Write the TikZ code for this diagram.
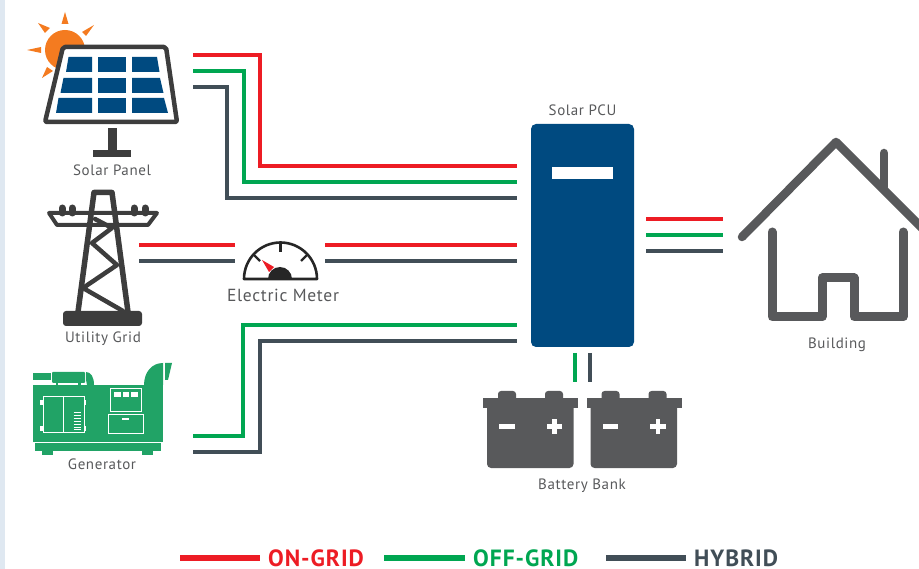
\documentclass[tikz,border=0pt]{standalone}
\usepackage{fontspec}
\setmainfont{PT Sans}
\newfontfamily\labelfont[LetterSpace=4]{PT Sans}
\newfontfamily\keyfont[LetterSpace=4]{PT Sans}
\usepackage{xcolor}
\usetikzlibrary{positioning, calc}

\definecolor{ongrid}{HTML}{ED1C24}
\definecolor{offgrid}{HTML}{00A651}
\definecolor{hybrid}{HTML}{414E57}
\definecolor{pcublue}{HTML}{004A80}
\definecolor{sunorange}{HTML}{F47B20}
\definecolor{icondark}{HTML}{3D3D3D}
\definecolor{icongrey}{HTML}{58595B}
\definecolor{gensetgreen}{HTML}{21A366}
\definecolor{edgeblue}{HTML}{DFE8F1}
\definecolor{labelgrey}{HTML}{58595B}

\tikzset{
    wire/.style={line width=3.6pt},
    onwire/.style={wire, draw=ongrid},
    offwire/.style={wire, draw=offgrid},
    hybwire/.style={wire, draw=hybrid},
    keyline/.style={line width=6.5pt},
    lbl/.style={inner sep=0pt, text=labelgrey, font=\labelfont\fontsize{15}{17}\selectfont},
    keytext/.style={inner sep=0pt, anchor=west, font=\keyfont\fontsize{23.5}{26}\selectfont\bfseries},
    genline/.style={draw=white, line width=1pt},
    solarcell/.style={fill=pcublue},
    tower/.style={draw=icondark, line join=round, line cap=round},
}

\begin{document}
\begin{tikzpicture}[x=1pt, y=-1pt]
    \useasboundingbox (0,0) rectangle (919,569);
    \fill[edgeblue] (0,0) rectangle (5,569);

    % Sun
    \fill[sunorange] (65,50) circle (20);
    \fill[sunorange] (65,12) -- (68.5,24) -- (61.5,24) -- cycle;
    \fill[sunorange] (94,25) -- (86,36) -- (82,32) -- cycle;
    \fill[sunorange] (38,23) -- (50,28) -- (45,33) -- cycle;
    \fill[sunorange] (27,50) -- (41,47) -- (41,53) -- cycle;
    \fill[sunorange] (42,78) -- (47,67) -- (53,71) -- cycle;

    % Solar panel
    \filldraw[fill=white, draw=icondark, line width=4.5pt, line join=round, rounded corners=2pt]
        (63,47) -- (166,47) -- (177,122) -- (45,122) -- cycle;
    \foreach \ya/\yb/\xa/\xb/\xc/\xd in {57/72/68.5/66/157/159.5, 78/93/63.5/60.5/160/163.5, 98/113/58.5/56/164/168}{
        \fill[solarcell] (\xa,\ya) -- (92,\ya) -- (92,\yb) -- (\xb,\yb) -- cycle;
        \fill[solarcell] (98,\ya) rectangle (126,\yb);
        \fill[solarcell] (132,\ya) -- (\xc,\ya) -- (\xd,\yb) -- (132,\yb) -- cycle;
    }
    \fill[icondark] (108,128) rectangle (117,150);
    \fill[icondark] (93,150) rectangle (131,157);
    \node[lbl] (panellabel) at (112,170.5) {Solar Panel};

    % Utility grid tower
    \fill[icondark, rounded corners=3pt] (63,311) rectangle (142,326);
    \draw[tower, line width=5.5pt] (78,312) -- (94,192.5) -- (112,192.5) -- (128,312);
    \draw[tower, line width=4pt] (49,213) -- (157,213) -- (148,225) -- (57,225) -- cycle;
    \draw[tower, line width=4.5pt] (95,219) -- (112,228) -- (92,243) -- (117,265) -- (83,288) -- (123,311);
    \foreach \x in {62,72,134,145}{
        \draw[tower, line width=7pt] (\x,208) -- (\x,213);
    }
    \node[lbl] (gridlabel) at (103,338.5) {Utility Grid};

    % Generator
    \fill[gensetgreen] (33,385) rectangle (163,442);
    \fill[gensetgreen] (35,443) rectangle (161,451);
    \fill[gensetgreen] (42,451) rectangle (53,455);
    \fill[gensetgreen] (142,451) rectangle (153,455);
    \fill[gensetgreen] (33,373) rectangle (51,380);
    \fill[gensetgreen, rounded corners=1pt] (52,372) rectangle (85,383);
    \fill[gensetgreen] (56,383) rectangle (58,385);
    \fill[gensetgreen] (78,383) rectangle (81,385);
    \fill[gensetgreen] (86,372) .. controls (91,372) and (94,377) .. (94,385) -- (87,385) -- (86,380) -- cycle;
    \fill[gensetgreen] (144,385) .. controls (144,372) and (152,363) .. (163,363) -- (163,385) -- cycle;
    \fill[gensetgreen] (165,363) -- (172,363) -- (168,380) -- (165,380) -- cycle;
    \draw[genline] (43.5,397) rectangle (84,433);
    \draw[genline, line width=1.4pt] (63.5,397) -- (63.5,433);
    \foreach \y in {400,426}{
        \fill[white] (40,\y) rectangle (43,\y+5);
        \fill[white] (84,\y) rectangle (86,\y+5);
    }
    \foreach \y in {413,416,419,422,425,428,430}{
        \draw[genline] (73.5,\y) -- (81,\y);
    }
    \draw[genline] (110,388.5) rectangle (141,412);
    \draw[genline] (108,415) rectangle (143,434);
    \foreach \x in {114,122.5,131}{
        \fill[white] (\x,392.5) rectangle (\x+6.5,397);
    }
    \fill[white] (122,418) rectangle (129,420);
    \node[lbl] (genlabel) at (102,464.5) {Generator};

    % Electric meter
    \draw[draw=black!85, line width=2.6pt, line join=round] (244,279) arc[start angle=180, end angle=360, radius=36.5] -- cycle;
    \draw[draw=black!85, line width=2.4pt] (280.5,243) -- (280.5,252);
    \draw[draw=black!85, line width=2.4pt] (254,255) -- (260,261);
    \draw[draw=black!85, line width=2.4pt] (307,255) -- (301,261);
    \fill[black!85] (268,279) arc[start angle=180, end angle=360, radius=12] -- cycle;
    \fill[ongrid] (262,260) -- (274,267) -- (269,272) -- cycle;
    \node[lbl, font=\labelfont\fontsize{17.5}{19}\selectfont] (meterlabel) at (283,295) {Electric Meter};

    % Solar PCU
    \node[fill=pcublue, rounded corners=5pt, minimum width=103pt, minimum height=223pt, inner sep=0pt] (pcu) at (582.5,235.5) {};
    \node[fill=white, minimum width=61pt, minimum height=12pt, inner sep=0pt] (pcuslot) at (582.5,173) {};
    \node[lbl] (pculabel) at (582.5,110.5) {Solar PCU};

    % Batteries
    \foreach \dx in {0,103.5}{
        \begin{scope}[xshift=\dx pt]
            \fill[icongrey, rounded corners=4pt] (487,400) rectangle (573.5,468);
            \fill[icongrey] (483,398) rectangle (578,408);
            \fill[icongrey, rounded corners=3pt] (498,391) rectangle (516,402);
            \fill[icongrey, rounded corners=3pt] (545,391) rectangle (563,402);
            \fill[white] (499,424.5) rectangle (514.5,429);
            \fill[white] (546.5,424.5) rectangle (562,429);
            \fill[white] (552,419) rectangle (556.5,434.5);
        \end{scope}
    }
    \node[lbl] (batterylabel) at (582,486) {Battery Bank};

    % Building
    \draw[icongrey, line width=8.5pt, line cap=round, line join=round] (742,237) -- (836,142) -- (925,231);
    \draw[icongrey, line width=8.5pt, line cap=round] (884,153) -- (884,187);
    \draw[icongrey, line width=9pt, line cap=round, line join=round]
        (772,232) -- (772,317) -- (822,317) -- (822,278) -- (854,278) -- (854,317) -- (903,317) -- (903,232);
    \node[lbl] (buildinglabel) at (837,345) {Building};

    % Wire ends
    \coordinate (panelon) at (193,55);
    \coordinate (paneloff) at (193,71);
    \coordinate (panelhyb) at (193,87);
    \coordinate (pcuon) at (517,166);
    \coordinate (pcuoff) at (517,182);
    \coordinate (pcuhyb) at (517,198);
    \coordinate (gridon) at (139,245);
    \coordinate (gridhyb) at (139,261);
    \coordinate (meterinon) at (235,245);
    \coordinate (meterinhyb) at (235,261);
    \coordinate (meteron) at (325,245);
    \coordinate (meterhyb) at (325,261);
    \coordinate (pcumeteron) at (517,245);
    \coordinate (pcumeterhyb) at (517,261);
    \coordinate (genoff) at (193,436);
    \coordinate (genhyb) at (193,452);
    \coordinate (pcugenoff) at (517,325);
    \coordinate (pcugenhyb) at (517,341);

    % Wires
    \draw[onwire] (panelon) -- ++(67,0) |- (pcuon);
    \draw[offwire] (paneloff) -- ++(51,0) |- (pcuoff);
    \draw[hybwire] (panelhyb) -- ++(34,0) |- (pcuhyb);
    \draw[onwire] (gridon) -- (meterinon);
    \draw[hybwire] (gridhyb) -- (meterinhyb);
    \draw[onwire] (meteron) -- (pcumeteron);
    \draw[hybwire] (meterhyb) -- (pcumeterhyb);
    \draw[offwire] (genoff) -- ++(50,0) |- (pcugenoff);
    \draw[hybwire] (genhyb) -- ++(67,0) |- (pcugenhyb);

    \foreach \name/\y/\kind in {on/219/onwire, off/235/offwire, hyb/251/hybwire}{
        \coordinate (out\name) at (646,\y);
        \coordinate (home\name) at (723,\y);
        \draw[\kind] (out\name) -- (home\name);
    }
    \foreach \name/\x/\kind in {off/575/offwire, hyb/590/hybwire}{
        \coordinate (pcubat\name) at (\x,353);
        \coordinate (bat\name) at (\x,382);
        \draw[\kind] (pcubat\name) -- (bat\name);
    }

    % Legend
    \foreach \name/\xa/\xb/\keyname/\tcol in {on/180/260/ON-GRID/ongrid, off/384/465/OFF-GRID/offgrid, hyb/606/686/HYBRID/hybrid}{
        \coordinate (key\name a) at (\xa,558);
        \coordinate (key\name b) at (\xb,558);
        \draw[keyline, draw=\tcol] (key\name a) -- (key\name b);
        \node[keytext, text=\tcol, right=8pt of key\name b] (key\name) {\keyname};
    }
\end{tikzpicture}
\end{document}
